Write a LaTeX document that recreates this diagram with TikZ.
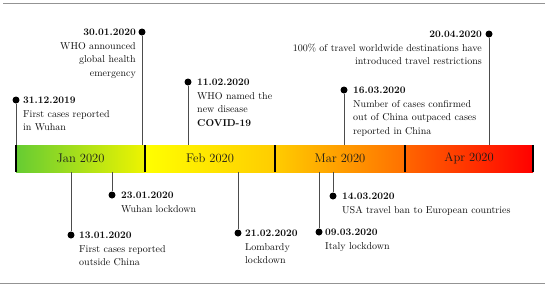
\documentclass[tikz,border=0pt]{standalone}
\usepackage{tikz}
\usetikzlibrary{positioning,calc}

\definecolor{janL}{RGB}{102,204,51}
\definecolor{janR}{RGB}{238,244,0}
\definecolor{febL}{RGB}{255,255,0}
\definecolor{febR}{RGB}{255,204,0}
\definecolor{marR}{RGB}{255,112,0}
\definecolor{aprL}{RGB}{255,102,0}
\definecolor{aprR}{RGB}{255,0,0}

\begin{document}
\begin{tikzpicture}[
    x=1pt,
    y=-1pt,
    rule/.style={gray!85, line width=0.9pt},
    stem/.style={gray!60!black, line width=0.8pt},
    dot/.style={circle, fill=black, inner sep=0pt, minimum size=7pt},
    bartick/.style={black, line width=1.3pt},
    month/.style={font=\fontsize{12.5}{14}\selectfont, text=black!90},
    evR/.style={anchor=north west, align=left, inner sep=0pt,
      font=\fontsize{10}{13.8}\selectfont, text=black!95},
    evL/.style={anchor=north east, align=right, inner sep=0pt,
      font=\fontsize{10}{13.8}\selectfont, text=black!95}
  ]
    \useasboundingbox (0,0) rectangle (550,287);
    \draw[rule] (3,3.5) -- (545,3.5);
    \draw[rule] (0,283) -- (545,283);

    % month bar
    \shade[left color=janL, right color=janR] (16,145) rectangle (145,172);
    \shade[left color=febL, right color=febR] (145,145) rectangle (275,172);
    \shade[left color=febR, right color=marR] (275,145) rectangle (405,172);
    \shade[left color=aprL, right color=aprR] (405,145) rectangle (533,172);
    \foreach \x in {16,145,275,405,533} {
      \draw[bartick] (\x,145) -- (\x,172);
    }
    \coordinate (bartop) at (0,145);
    \coordinate (barbot) at (0,172);
    \node[month] (jan) at (80.5,158.5) {Jan 2020};
    \node[month] (feb) at (210,158.5) {Feb 2020};
    \node[month] (mar) at (340,158.5) {Mar 2020};
    \node[month] (apr) at (469,158.5) {Apr 2020};

    % events above
    \node[dot] (wuhan) at (16,100) {};
    \node[dot] (who) at (142,32) {};
    \node[dot] (covid) at (188,82) {};
    \node[dot] (outpaced) at (344,90) {};
    \node[dot] (travel) at (489,34) {};
    \foreach \ev in {wuhan,who,covid,outpaced,travel} {
      \draw[stem] (\ev) -- (\ev |- bartop);
    }
    \node[evR] (wuhan-t) at (23,96.5) {\textbf{31.12.2019}\\First cases reported\\in Wuhan};
    \node[evL] (who-t) at (136,28.5) {\textbf{30.01.2020}\\WHO announced\\global health\\emergency};
    \node[evR] (covid-t) at (197,78.5) {\textbf{11.02.2020}\\WHO named the\\new disease\\\textbf{COVID-19}};
    \node[evR] (outpaced-t) at (353,86.5) {\textbf{16.03.2020}\\Number of cases confirmed\\out of China outpaced cases\\reported in China};
    \node[evL] (travel-t) at (482,30.5) {\textbf{20.04.2020}\\100\% of travel worldwide destinations have\\introduced travel restrictions};

    % events below
    \node[dot] (outside) at (71,235) {};
    \node[dot] (lockwu) at (112,195) {};
    \node[dot] (lombardy) at (238,233) {};
    \node[dot] (italy) at (319,232) {};
    \node[dot] (usa) at (333,196) {};
    \foreach \ev in {outside,lockwu,lombardy,italy,usa} {
      \draw[stem] (\ev |- barbot) -- (\ev);
    }
    \node[evR] (outside-t) at (79,231.5) {\textbf{13.01.2020}\\First cases reported\\outside China};
    \node[evR] (lockwu-t) at (121,191.5) {\textbf{23.01.2020}\\Wuhan lockdown};
    \node[evR] (lombardy-t) at (245,229.5) {\textbf{21.02.2020}\\Lombardy\\lockdown};
    \node[evR] (italy-t) at (325,228.5) {\textbf{09.03.2020}\\Italy lockdown};
    \node[evR] (usa-t) at (342,192.5) {\textbf{14.03.2020}\\USA travel ban to European countries};
  \end{tikzpicture}
\end{document}
